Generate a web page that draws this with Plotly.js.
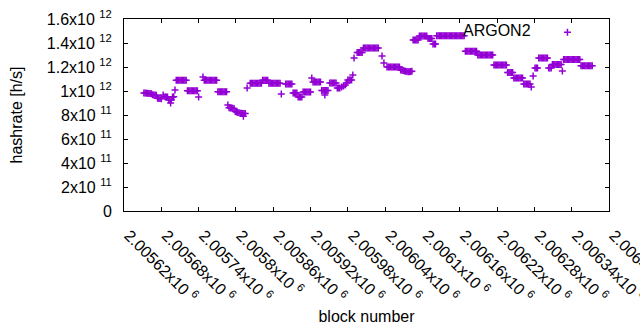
<!DOCTYPE html>
<html>
<head>
<meta charset="utf-8">
<script src="https://cdn.plot.ly/plotly-3.0.1.min.js"></script>
<style>html,body{margin:0;padding:0;background:#fff;}#chart{width:640px;height:330px;}</style>
</head>
<body>
<div id="chart"></div>
<script>
// block numbers
const blocks = [
2005652,2005654,2005656,2005658,2005660,2005662,2005664,
2005666,2005668,2005670,2005672,
2005674,2005676,2005678,2005680,
2005683,
2005686,2005688,2005690,
2005692,2005694,2005696,2005695,
2005698,2005700,
2005702,
2005704,2005706,2005708,2005710,2005712,2005714,2005716,2005718,2005720,
2005722,2005724,2005726,2005728,2005730,2005732,2005734,2005736,2005738,
2005740,
2005747,
2005749,2005751,2005753,2005755,2005757,2005759,2005761,2005763,2005765,2005767,2005769,
2005771,2005773,2005775,2005777,2005779,2005781,2005783,2005785,
2005787,
2005789,2005791,2005793,2005795,2005797,
2005799,2005801,2005803,2005805,2005807,2005809,2005811,2005813,2005815,2005812,
2005818,
2005823,2005825,2005827,2005829,2005831,2005833,2005835,2005837,2005839,2005841,
2005843,2005845,2005847,2005849,2005851,
2005853,2005855,2005857,2005859,2005861,2005863,2005865,2005867,2005869,2005871,
2005873,
2005880,2005882,2005884,2005886,2005888,2005890,
2005892,2005894,2005896,2005898,
2005900,2005902,2005904,2005906,
2005908,2005910,2005912,2005914,2005916,2005918,2005920,
2005922,
2005924,2005926,2005928,2005930,2005932,2005934,2005936,
2005938,2005940,2005942,2005944,2005946,2005948,2005943,
2005951,2005953,2005955,2005957,2005959,2005961,
2005963,2005965,
2005967,2005970,2005973,2005976,2005978,
2005980,2005982,2005984,2005986,
2005988,
2005990,
2005995,2005997,2005999,2006001,2006003,
2006005,2006007,2006009,2006011,2006013,2006015,2006017,2006019,2006021,2006023,2006025,2006027,2006029,
2006035,
2006038,
2006043,2006045,2006047,2006049,2006051,2006053,2006055,2006057,2006059,2006061,2006063,
2006065,2006067,2006069,2006071,2006073,2006075,2006077,2006079,2006081,2006083,
2006085,2006087,2006089,2006091,2006093,
2006095,2006097,2006099,2006101,2006103,2006105,2006107,
2006109,2006111,2006113,2006115,
2006117,2006119,2006121,
2006123,2006125,2006127,2006129,2006131,2006133,2006135,2006137,2006139,2006141,2006143,2006145,2006147,2006149,2006151,2006153,2006155,2006157,2006159,2006161,2006163,2006165,2006167,
2006169,2006171,2006173,2006175,2006177,2006179,2006181,2006183,2006185,2006187,
2006189,2006191,2006193,2006195,2006197,2006199,2006201,2006203,2006205,2006207,2006209,2006211,2006213,
2006215,2006217,2006219,2006221,2006223,2006225,2006227,2006229,2006231,2006233,2006235,
2006237,2006239,2006241,2006243,2006245,
2006247,2006249,2006251,2006253,2006255,2006257,2006259,2006261,
2006263,2006265,2006267,2006269,2006271,2006273,
2006275,
2006278,
2006281,2006283,2006285,
2006287,2006289,2006291,2006293,2006295,2006297,2006299,2006301,
2006303,2006305,2006307,
2006309,2006311,2006313,2006315,2006317,2006319,2006321,2006323,
2006325,
2006327,2006329,2006331,2006333,2006335,2006337,2006339,2006341,2006343,2006345,2006347,2006349,2006351,2006353,
2006355,2006357,2006359,2006361,2006363,2006365,2006367,2006369,2006371,2006373
];

// hashrate in h/s
const hashrate = [
983e9,983e9,981e9,981e9,980e9,980e9,978e9,
968e9,967e9,967e9,965e9,
940e9,938e9,938e9,936e9,
967e9,
952e9,950e9,950e9,
927e9,925e9,925e9,900e9,
950e9,952e9,
1008e9,
1089e9,1089e9,1089e9,1089e9,1089e9,1089e9,1089e9,1089e9,1089e9,
1003e9,1003e9,1003e9,1003e9,1003e9,1003e9,1003e9,1003e9,1003e9,
950e9,
1117e9,
1089e9,1089e9,1089e9,1089e9,1089e9,1089e9,1089e9,1089e9,1089e9,1089e9,1089e9,
994e9,994e9,994e9,994e9,994e9,994e9,994e9,994e9,
883e9,
860e9,858e9,858e9,856e9,855e9,
830e9,825e9,820e9,818e9,815e9,815e9,812e9,812e9,812e9,790e9,
1025e9,
1064e9,1064e9,1064e9,1064e9,1064e9,1064e9,1064e9,1064e9,1064e9,1064e9,
1089e9,1089e9,1089e9,1089e9,1089e9,
1064e9,1064e9,1064e9,1064e9,1064e9,1064e9,1064e9,1064e9,1064e9,1064e9,
975e9,
1058e9,1058e9,1058e9,1058e9,1058e9,1058e9,
983e9,983e9,983e9,983e9,
950e9,950e9,950e9,950e9,
992e9,992e9,992e9,992e9,992e9,992e9,992e9,
1108e9,
1075e9,1075e9,1075e9,1075e9,1075e9,1075e9,1075e9,
1004e9,1004e9,1004e9,1004e9,1004e9,1004e9,967e9,
1067e9,1067e9,1067e9,1067e9,1067e9,1067e9,
1025e9,1025e9,
1025e9,1033e9,1042e9,1050e9,1067e9,
1092e9,1092e9,1092e9,1092e9,
1133e9,
1275e9,
1321e9,1321e9,1321e9,1321e9,1321e9,
1358e9,1358e9,1358e9,1358e9,1358e9,1358e9,1358e9,1358e9,1358e9,1358e9,1358e9,1358e9,1358e9,
1292e9,
1233e9,
1200e9,1200e9,1200e9,1200e9,1200e9,1200e9,1200e9,1200e9,1200e9,1200e9,1200e9,
1175e9,1172e9,1170e9,1167e9,1165e9,1163e9,1160e9,1160e9,1163e9,1165e9,
1425e9,1425e9,1425e9,1425e9,1425e9,
1458e9,1458e9,1458e9,1458e9,1458e9,1458e9,1458e9,
1438e9,1438e9,1438e9,1438e9,
1392e9,1392e9,1392e9,
1460e9,1460e9,1460e9,1460e9,1460e9,1460e9,1460e9,1460e9,1460e9,1460e9,1460e9,1460e9,1460e9,1460e9,1460e9,1460e9,1460e9,1460e9,1460e9,1460e9,1460e9,1460e9,1460e9,
1331e9,1331e9,1331e9,1331e9,1331e9,1331e9,1331e9,1331e9,1331e9,1331e9,
1300e9,1300e9,1300e9,1300e9,1300e9,1300e9,1300e9,1300e9,1300e9,1300e9,1300e9,1300e9,1300e9,
1217e9,1217e9,1217e9,1217e9,1217e9,1217e9,1217e9,1217e9,1217e9,1217e9,1217e9,
1154e9,1154e9,1154e9,1154e9,1154e9,
1108e9,1108e9,1108e9,1108e9,1108e9,1108e9,1108e9,1108e9,
1058e9,1058e9,1058e9,1058e9,1058e9,1058e9,
1033e9,
1125e9,
1192e9,1192e9,1192e9,
1275e9,1275e9,1275e9,1275e9,1275e9,1275e9,1275e9,1275e9,
1192e9,1192e9,1192e9,
1221e9,1221e9,1221e9,1221e9,1221e9,1221e9,1221e9,1221e9,
1167e9,
1263e9,1263e9,1263e9,1263e9,1263e9,1263e9,1263e9,1263e9,1263e9,1263e9,1263e9,1263e9,1263e9,1263e9,
1211e9,1211e9,1211e9,1211e9,1211e9,1211e9,1211e9,1211e9,1211e9,1211e9
];

const seriesName = 'ARGON2';

const xTickVals = [2005620,2005680,2005740,2005800,2005860,2005920,2005980,2006040,2006100,2006160,2006220,2006280,2006340,2006400];
const xTickText = ['2.00562x10 <sup>6</sup>','2.00568x10 <sup>6</sup>','2.00574x10 <sup>6</sup>','2.0058x10 <sup>6</sup>','2.00586x10 <sup>6</sup>','2.00592x10 <sup>6</sup>','2.00598x10 <sup>6</sup>','2.00604x10 <sup>6</sup>','2.0061x10 <sup>6</sup>','2.00616x10 <sup>6</sup>','2.00622x10 <sup>6</sup>','2.00628x10 <sup>6</sup>','2.00634x10 <sup>6</sup>','2.0064x10 <sup>6</sup>'];
const yTickVals = [0,2e11,4e11,6e11,8e11,1e12,1.2e12,1.4e12,1.6e12];
const yTickText = ['0','2x10 <sup>11</sup>','4x10 <sup>11</sup>','6x10 <sup>11</sup>','8x10 <sup>11</sup>','1x10 <sup>12</sup>','1.2x10 <sup>12</sup>','1.4x10 <sup>12</sup>','1.6x10 <sup>12</sup>'];

const PURPLE = '#9400d3';
const FONT = '"Liberation Sans", Arial, sans-serif';

const trace = {
  x: blocks, y: hashrate, type: 'scatter', mode: 'markers', name: '',
  marker: {symbol: 'cross-thin', size: 5, color: PURPLE, line: {color: PURPLE, width: 1.5}},
  showlegend: true, hoverinfo: 'x+y'
};

const layout = {
  width: 640, height: 330,
  margin: {l: 124, r: 31, t: 19, b: 119, pad: 0},
  paper_bgcolor: '#fff', plot_bgcolor: '#fff',
  font: {family: FONT, size: 16, color: '#000'},
  showlegend: true,
  legend: {
    x: 0.967, y: 0.93, xanchor: 'right', yanchor: 'middle',
    bgcolor: 'rgba(0,0,0,0)', borderwidth: 0,
    title: {text: seriesName + '\u00a0\u00a0', side: 'left', font: {family: FONT, size: 16, color: '#000'}},
    font: {family: FONT, size: 16, color: '#000'}
  },
  xaxis: {
    range: [2005620, 2006400], tickmode: 'array', tickvals: xTickVals, ticktext: xTickText,
    tickangle: 45, ticks: 'inside', ticklen: 4, tickcolor: '#000', tickwidth: 1,
    showline: true, linecolor: '#000', linewidth: 1, mirror: 'ticks',
    showgrid: false, zeroline: false, automargin: false,
    ticklabelstandoff: 8, ticklabelshift: 5, ticklabeloverflow: 'allow',
    tickfont: {family: FONT, size: 16, color: '#000'},
    title: {text: 'block number', standoff: 6, font: {family: FONT, size: 16, color: '#000'}}
  },
  yaxis: {
    range: [0, 1.6e12], tickmode: 'array', tickvals: yTickVals, ticktext: yTickText,
    ticks: 'inside', ticklen: 4, tickcolor: '#000', tickwidth: 1,
    showline: true, linecolor: '#000', linewidth: 1, mirror: 'ticks',
    showgrid: false, zeroline: false, automargin: false, ticklabelstandoff: 8,
    tickfont: {family: FONT, size: 16, color: '#000'},
    title: {text: 'hashrate [h/s]', standoff: 20, font: {family: FONT, size: 16, color: '#000'}}
  }
};

Plotly.newPlot('chart', [trace], layout, {displayModeBar: false, staticPlot: true});
</script>
</body>
</html>
